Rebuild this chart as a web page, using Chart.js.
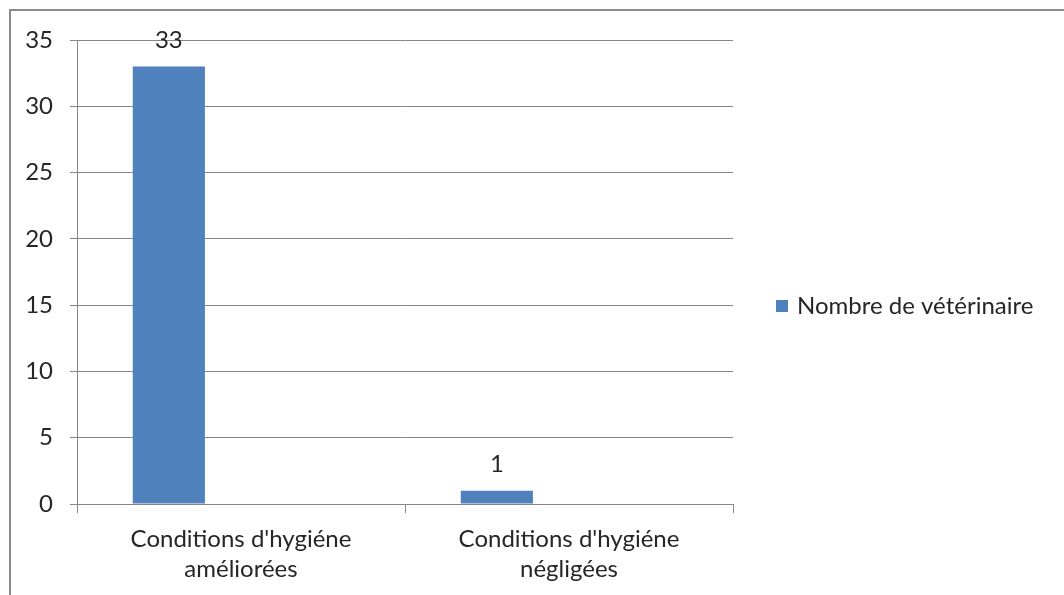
<!DOCTYPE html>
<html>
<head>
<meta charset="utf-8">
<script src="https://cdn.jsdelivr.net/npm/chart.js@4/dist/chart.umd.min.js"></script>
<style>
  html, body { margin: 0; padding: 0; background: #ffffff; }
  #wrap { position: relative; width: 1064px; height: 595px; }
</style>
</head>
<body>
<div id="wrap"><canvas id="c" width="1064" height="595"></canvas></div>
<script>
// Categories (two-line labels) and values
const categories = [
  ["Conditions d'hygiéne", "améliorées"],
  ["Conditions d'hygiéne", "négligées"]
];
const seriesName = "Nombre de vétérinaire";
const seriesValues = [33, 1];
// Two unused series slots of the workbook chart (no values)
const emptySeriesB = [null, null];
const emptySeriesC = [null, null];
const yTicks = [0, 5, 10, 15, 20, 25, 30, 35];

const FONT = "Lato, 'Open Sans', sans-serif";
const TEXT = "#262626";
const GRID = "#868686";
const BLUE = "#4f81bd";

// Outer frame of the chart object
const framePlugin = {
  id: 'frame',
  afterDraw(chart) {
    const ctx = chart.ctx;
    ctx.save();
    ctx.strokeStyle = "#8c8c8c";
    ctx.lineWidth = 2;
    ctx.beginPath();
    ctx.moveTo(10, 600);
    ctx.lineTo(10, 10);
    ctx.lineTo(1070, 10);
    ctx.stroke();
    ctx.restore();
  }
};

// Value labels above each bar of the first series
const valueLabels = {
  id: 'valueLabels',
  afterDatasetsDraw(chart) {
    const ctx = chart.ctx;
    const meta = chart.getDatasetMeta(0);
    ctx.save();
    ctx.font = "24px " + FONT;
    ctx.fillStyle = TEXT;
    ctx.textAlign = "center";
    ctx.textBaseline = "middle";
    meta.data.forEach((bar, i) => {
      const v = chart.data.datasets[0].data[i];
      if (v == null) return;
      ctx.fillText(String(v), bar.x, bar.y - 26);
    });
    ctx.restore();
  }
};

// Legend for the named series, placed in the right margin
const sideLegend = {
  id: 'sideLegend',
  afterDraw(chart) {
    const ctx = chart.ctx;
    const ds = chart.data.datasets[0];
    const x = chart.chartArea.right + 43;
    const y = 306;
    ctx.save();
    ctx.fillStyle = ds.backgroundColor;
    ctx.fillRect(x, y - 6, 12, 12);
    ctx.font = "24px " + FONT;
    ctx.fillStyle = TEXT;
    ctx.textAlign = "left";
    ctx.textBaseline = "middle";
    ctx.fillText(ds.label, x + 21, y);
    ctx.restore();
  }
};

new Chart(document.getElementById('c'), {
  type: 'bar',
  data: {
    labels: categories,
    datasets: [
      { label: seriesName, data: seriesValues, backgroundColor: BLUE, borderWidth: 0 },
      { label: '', data: emptySeriesB, backgroundColor: BLUE },
      { label: '', data: emptySeriesC, backgroundColor: BLUE }
    ]
  },
  options: {
    responsive: false,
    animation: false,
    events: [],
    datasets: { bar: { categoryPercentage: 0.66, barPercentage: 1.0 } },
    layout: { padding: { left: 0, top: 40, right: 331, bottom: 0 } },
    plugins: {
      tooltip: { enabled: false },
      legend: { display: false }
    },
    scales: {
      x: {
        offset: true,
        grid: { display: true, offset: true, drawOnChartArea: false, tickLength: 9, color: GRID, lineWidth: 1 },
        border: { display: true, color: GRID },
        ticks: { color: TEXT, font: { family: FONT, size: 24, lineHeight: 1.25 }, padding: 11, maxRotation: 0, autoSkip: false },
        afterFit(scale) { scale.height = 91; }
      },
      y: {
        min: 0,
        max: 35,
        afterBuildTicks(scale) { scale.ticks = yTicks.map(v => ({ value: v })); },
        grid: { color: GRID, lineWidth: 1, tickLength: 7 },
        border: { display: true, color: GRID },
        ticks: { color: TEXT, font: { family: FONT, size: 24 }, padding: 17 },
        afterFit(scale) { scale.width = 77; }
      }
    }
  },
  plugins: [valueLabels, sideLegend, framePlugin]
});
</script>
</body>
</html>
